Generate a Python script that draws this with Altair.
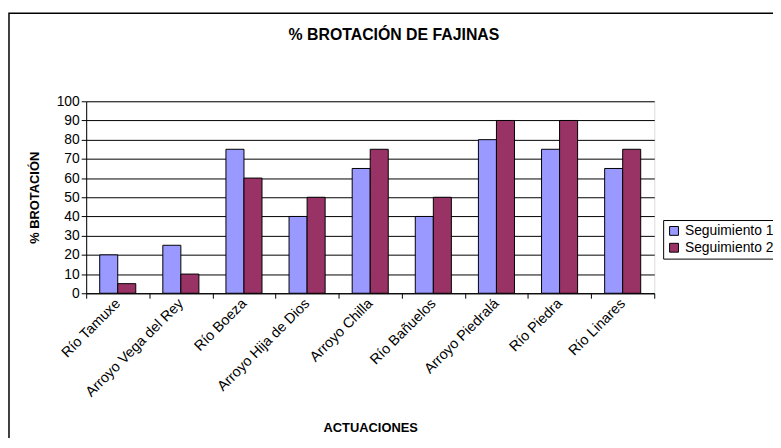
import altair as alt
import pandas as pd

categories = ["Río Tamuxe", "Arroyo Vega del Rey", "Río Boeza", "Arroyo Hija de Dios",
              "Arroyo Chilla", "Río Bañuelos", "Arroyo Piedralá", "Río Piedra", "Río Linares"]
seg1 = [20, 25, 75, 40, 65, 40, 80, 75, 65]
seg2 = [5, 10, 60, 50, 75, 50, 90, 90, 75]
series = ["Seguimiento 1", "Seguimiento 2"]
y_ticks = [0, 10, 20, 30, 40, 50, 60, 70, 80, 90, 100]
chart_title = "% BROTACIÓN DE FAJINAS"

rows = []
for c, a, b in zip(categories, seg1, seg2):
    rows.append({"cat": c, "serie": series[0], "val": a})
    rows.append({"cat": c, "serie": series[1], "val": b})
df = pd.DataFrame(rows)

FONT = "Liberation Sans"

bars = alt.Chart(df).mark_bar(stroke="black", strokeWidth=1).encode(
    x=alt.X("cat:N", sort=categories,
            scale=alt.Scale(paddingInner=0, paddingOuter=0),
            axis=alt.Axis(title="ACTUACIONES", labelAngle=-45, labelAlign="right",
                          labelBaseline="middle", labelFontSize=14.5, labelFont=FONT,
                          labelColor="black", tickBand="extent", tickColor="black",
                          tickSize=5, domainColor="black", labelPadding=3,
                          titleFont=FONT, titleFontSize=13, titleFontWeight="bold",
                          titleColor="black", titleX=287, titleY=136,
                          titleBaseline="middle", grid=False)),
    xOffset=alt.XOffset("serie:N", sort=series,
                        scale=alt.Scale(paddingInner=0, paddingOuter=0.75)),
    y=alt.Y("val:Q", scale=alt.Scale(domain=[0, 100], nice=False),
            axis=alt.Axis(title="% BROTACIÓN", values=y_ticks, labelFontSize=14,
                          labelFont=FONT, labelColor="black", tickColor="black",
                          tickSize=5, domainColor="black", gridColor="black",
                          gridWidth=1, titleFont=FONT, titleFontSize=13,
                          titleFontWeight="bold", titleColor="black",
                          titleX=-52, titleY=97, titleAngle=-90,
                          titleAlign="center", titleBaseline="middle")),
    color=alt.Color("serie:N", sort=series,
                    scale=alt.Scale(domain=series, range=["#9999FF", "#993366"]),
                    legend=alt.Legend(title=None, orient="none", legendX=583, legendY=120,
                                      fillColor="white", strokeColor="black",
                                      padding=4, symbolType="square", symbolSize=80,
                                      symbolStrokeColor="black", symbolStrokeWidth=1,
                                      labelFont=FONT, labelFontSize=14, labelColor="black",
                                      labelOffset=4, rowPadding=3)),
)

frame = alt.Chart(alt.Data(values=[{}])).mark_rect(
    fill=None, stroke="black", strokeWidth=1.5
).encode(x=alt.value(-78), x2=alt.value(760), y=alt.value(-89), y2=alt.value(400))

title = alt.Chart(alt.Data(values=[{}])).mark_text(
    font=FONT, fontSize=16, fontWeight="bold", color="black",
    align="center", baseline="middle"
).encode(x=alt.value(311), y=alt.value(-67), text=alt.value(chart_title))

chart = alt.layer(frame, bars, title).properties(
    width=574, height=194,
    autosize=alt.AutoSizeParams(type="none"),
    padding={"left": 79, "top": 92, "right": 120, "bottom": 144},
).configure_view(
    fill="#C0C0C0", stroke="#808080", strokeWidth=1
).configure(background="white")

chart.save("out.html", embed_options={"renderer": "svg", "actions": False})
